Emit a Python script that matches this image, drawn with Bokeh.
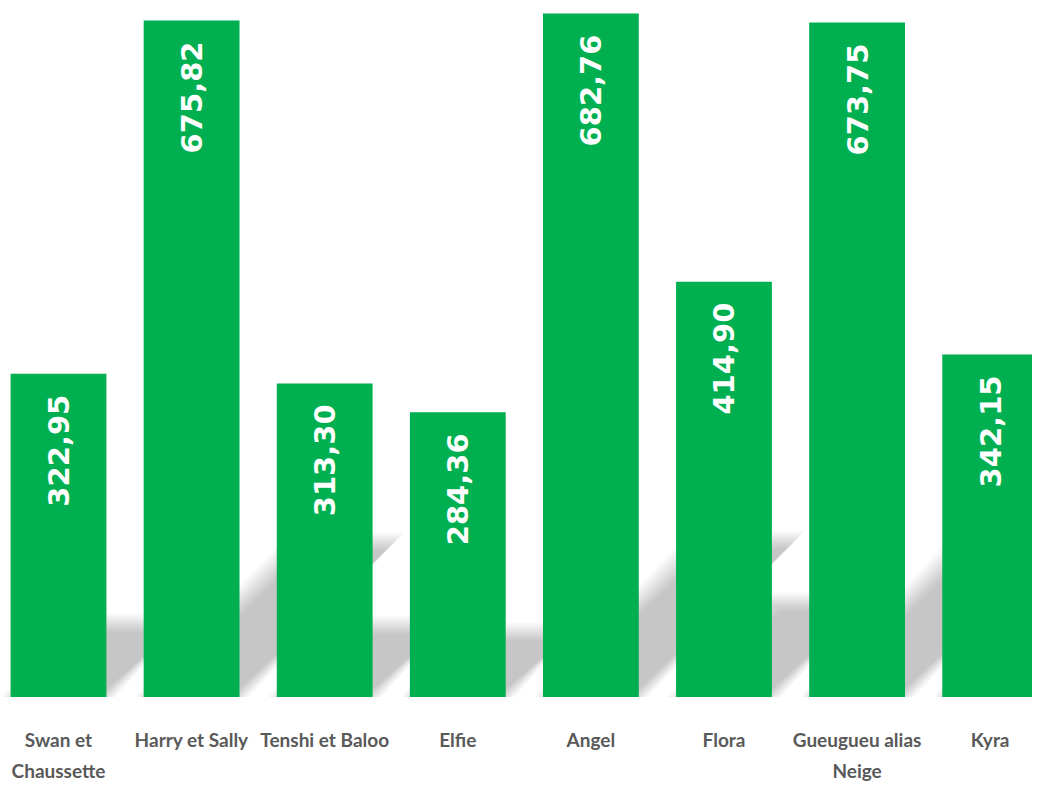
import math
from bokeh.plotting import figure
from bokeh.models import Range1d, ColumnDataSource
from bokeh.core.properties import value
from bokeh.embed import file_html
from bokeh.resources import INLINE

categories = ["Swan et\nChaussette", "Harry et Sally", "Tenshi et Baloo", "Elfie",
              "Angel", "Flora", "Gueugueu alias\nNeige", "Kyra"]
values = [322.95, 675.82, 313.30, 284.36, 682.76, 414.90, 673.75, 342.15]
labels = [f"{v:.2f}".replace(".", ",") for v in values]

xs = list(range(len(categories)))
bar_w = 0.72
px_per_x = 133.1  # screen pixels per category step
px_per_y = 1.001

p = figure(width=1032, height=786, output_backend="svg", toolbar_location=None,
           x_range=Range1d(-0.4358, 7.318), y_range=Range1d(-89.4, 695.8),
           min_border=0, outline_line_color=None)
p.axis.visible = False
p.grid.visible = False
p.background_fill_color = "white"
p.border_fill_color = "white"

# soft perspective shadows (derived from the bar values)
k = 0.23
offsets = [-9, -7, -5, -3, -1, 1, 3, 5, 7, 9]
for s in offsets:
    xs_list, ys_list = [], []
    for x, v in zip(xs, values):
        dy = k * v
        dx = dy * px_per_y / px_per_x
        ex = s / px_per_x
        ey = s / px_per_y
        x0 = x - bar_w / 2 - ex
        x1 = x + bar_w / 2 + ex
        xs_list.append([x0, x1, x1 + dx, x0 + dx])
        ys_list.append([0, 0, dy + ey, dy + ey])
    p.patches(xs_list, ys_list, fill_color="black", fill_alpha=0.023, line_color=None)

src = ColumnDataSource(dict(x=xs, top=values, label=labels, cat=categories))
p.vbar(x="x", top="top", bottom=0, width=bar_w, source=src,
       fill_color="#00B050", line_color=None)

p.text(x="x", y="top", text="label", source=src, angle=math.pi / 2,
       text_align="right", text_baseline="middle", y_offset=21,
       text_color="white", text_font=value("DejaVu Sans"), text_font_style="bold",
       text_font_size="29px")

p.text(x="x", y=-31, text="cat", source=src, text_align="center", text_baseline="top",
       text_color="#595959", text_font=value("Lato"),
       text_font_style="bold", text_font_size="19px", text_line_height=1.36)

open("out.html", "w").write(file_html(p, INLINE))
